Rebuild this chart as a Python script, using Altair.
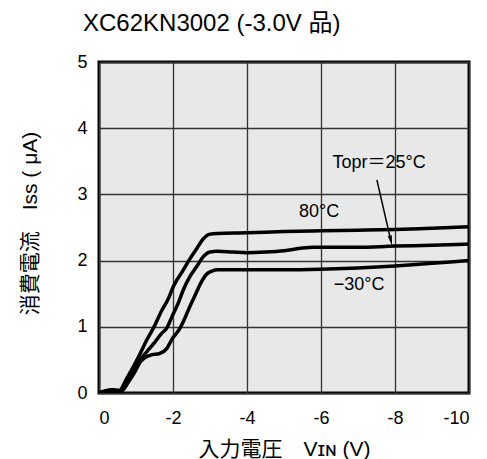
import altair as alt
import pandas as pd

FONT = "Liberation Sans, Arial, Noto Sans CJK JP"

# Supply current vs. input voltage, one curve per operating temperature
vin_80 = [0, -0.15, -0.35, -0.55, -0.75, -0.93, -1.10, -1.29, -1.47, -1.70, -1.87,
          -2.01, -2.28, -2.46, -2.64, -2.82, -3.00, -3.20, -4.0, -5.0, -6.0, -7.0,
          -8.0, -9.0, -10.0]
iss_80 = [0, 0.03, 0.05, 0.04, 0.22, 0.40, 0.58, 0.80, 0.98, 1.25, 1.42,
          1.61, 1.86, 2.03, 2.18, 2.33, 2.40, 2.41, 2.42, 2.44, 2.45, 2.46,
          2.47, 2.49, 2.51]

vin_25 = [0, -0.15, -0.35, -0.58, -0.78, -0.95, -1.12, -1.33, -1.50, -1.69, -1.83,
          -1.97, -2.15, -2.28, -2.46, -2.64, -2.82, -3.00, -3.20, -3.6, -4.0, -4.5,
          -5.0, -5.5, -5.8, -6.5, -7.0, -8.0, -9.0, -10.0]
iss_25 = [0, 0.02, 0.04, 0.03, 0.18, 0.33, 0.50, 0.65, 0.76, 0.90, 0.98,
          1.15, 1.37, 1.56, 1.76, 1.91, 2.06, 2.13, 2.14, 2.13, 2.12, 2.13,
          2.15, 2.19, 2.20, 2.20, 2.20, 2.22, 2.23, 2.25]

vin_m30 = [0, -0.15, -0.35, -0.60, -0.80, -0.97, -1.13, -1.38, -1.65, -1.83, -1.96,
           -2.19, -2.32, -2.45, -2.60, -2.75, -2.90, -3.05, -3.22, -4.0, -5.0, -6.0,
           -7.0, -8.0, -9.0, -10.0]
iss_m30 = [0, 0.02, 0.03, 0.03, 0.17, 0.32, 0.48, 0.57, 0.60, 0.67, 0.80,
           0.98, 1.13, 1.30, 1.48, 1.66, 1.79, 1.84, 1.86, 1.86, 1.86, 1.87,
           1.89, 1.92, 1.96, 2.00]

x_ticks = [0, -2, -4, -6, -8, -10]
y_ticks = [0, 1, 2, 3, 4, 5]

# Curve labels and the leader arrow for the 25 °C curve
label_text = ["Topr＝25°C", "80°C", "−30°C"]
label_x = [-7.57, -5.95, -7.03]
label_y = [3.47, 2.73, 1.63]
arrow_start = (-7.51, 3.22)
arrow_end = (-7.86, 2.37)
arrow_tip = (-7.89, 2.30)

rows = []
for name, xs, ys in [("80", vin_80, iss_80), ("25", vin_25, iss_25), ("-30", vin_m30, iss_m30)]:
    for i, (xv, yv) in enumerate(zip(xs, ys)):
        rows.append({"temp": name, "vin": xv, "iss": yv, "i": i})
curves = pd.DataFrame(rows)

labels = pd.DataFrame({"text": label_text, "x": label_x, "y": label_y})
arrow = pd.DataFrame({"x": [arrow_start[0]], "y": [arrow_start[1]],
                      "x2": [arrow_end[0]], "y2": [arrow_end[1]]})
head = pd.DataFrame({"x": [arrow_tip[0]], "y": [arrow_tip[1]]})

x_scale = alt.Scale(domain=[0, -10], nice=False)
y_scale = alt.Scale(domain=[0, 5], nice=False)

x_enc = alt.X(
    "vin:Q", scale=x_scale,
    axis=alt.Axis(
        values=x_ticks,
        labelExpr="datum.value == 0 ? '0' : '-' + format(abs(datum.value), 'd')",
        labelPadding=16, labelBaseline="top",
        title="入力電圧　Vɪɴ (V)",
        titleX=185, titleY=62, titleAlign="center", titleBaseline="alphabetic",
    ),
)
y_enc = alt.Y(
    "iss:Q", scale=y_scale,
    axis=alt.Axis(
        values=y_ticks, format="d", labelPadding=12,
        title="消費電流　Iss ( μA)",
        titleAngle=270, titleX=-69, titleY=161,
        titleAlign="center", titleBaseline="middle",
    ),
)

lines = alt.Chart(curves).mark_line(
    color="black", strokeWidth=3.5, interpolate="monotone", clip=True
).encode(x=x_enc, y=y_enc, detail="temp:N", order="i:Q")

texts = alt.Chart(labels).mark_text(
    font=FONT, fontSize=18, color="black", align="center", baseline="middle"
).encode(x=alt.X("x:Q", scale=x_scale), y=alt.Y("y:Q", scale=y_scale), text="text:N")

leader = alt.Chart(arrow).mark_rule(color="black", strokeWidth=1.5).encode(
    x=alt.X("x:Q", scale=x_scale), y=alt.Y("y:Q", scale=y_scale), x2="x2:Q", y2="y2:Q"
)

arrow_head = alt.Chart(head).mark_point(
    shape="M0,1L-0.4,-1L0.4,-1Z", filled=True, color="black", opacity=1,
    size=110, angle=347,
).encode(x=alt.X("x:Q", scale=x_scale), y=alt.Y("y:Q", scale=y_scale))

chart = alt.layer(lines, leader, arrow_head, texts).properties(
    width=370, height=331,
    autosize=alt.AutoSizeParams(type="none"),
    padding={"left": 99, "top": 62, "right": 18, "bottom": 66},
    title=alt.TitleParams(
        text="XC62KN3002 (-3.0V 品)", anchor="start", frame="group", dx=-16, offset=-2,
        baseline="alphabetic", font=FONT, fontSize=24, fontWeight="normal", color="black",
    ),
).configure_view(
    fill="#e8e8e8", stroke="black", strokeWidth=3
).configure_axis(
    grid=True, gridColor="#333333", gridWidth=1.3, gridOpacity=1,
    domain=False, ticks=False,
    labelFont=FONT, labelFontSize=18, labelColor="black",
    titleFont=FONT, titleFontSize=21, titleFontWeight="normal", titleColor="black",
)

chart.save("out.html", embed_options={"renderer": "svg", "actions": False})
